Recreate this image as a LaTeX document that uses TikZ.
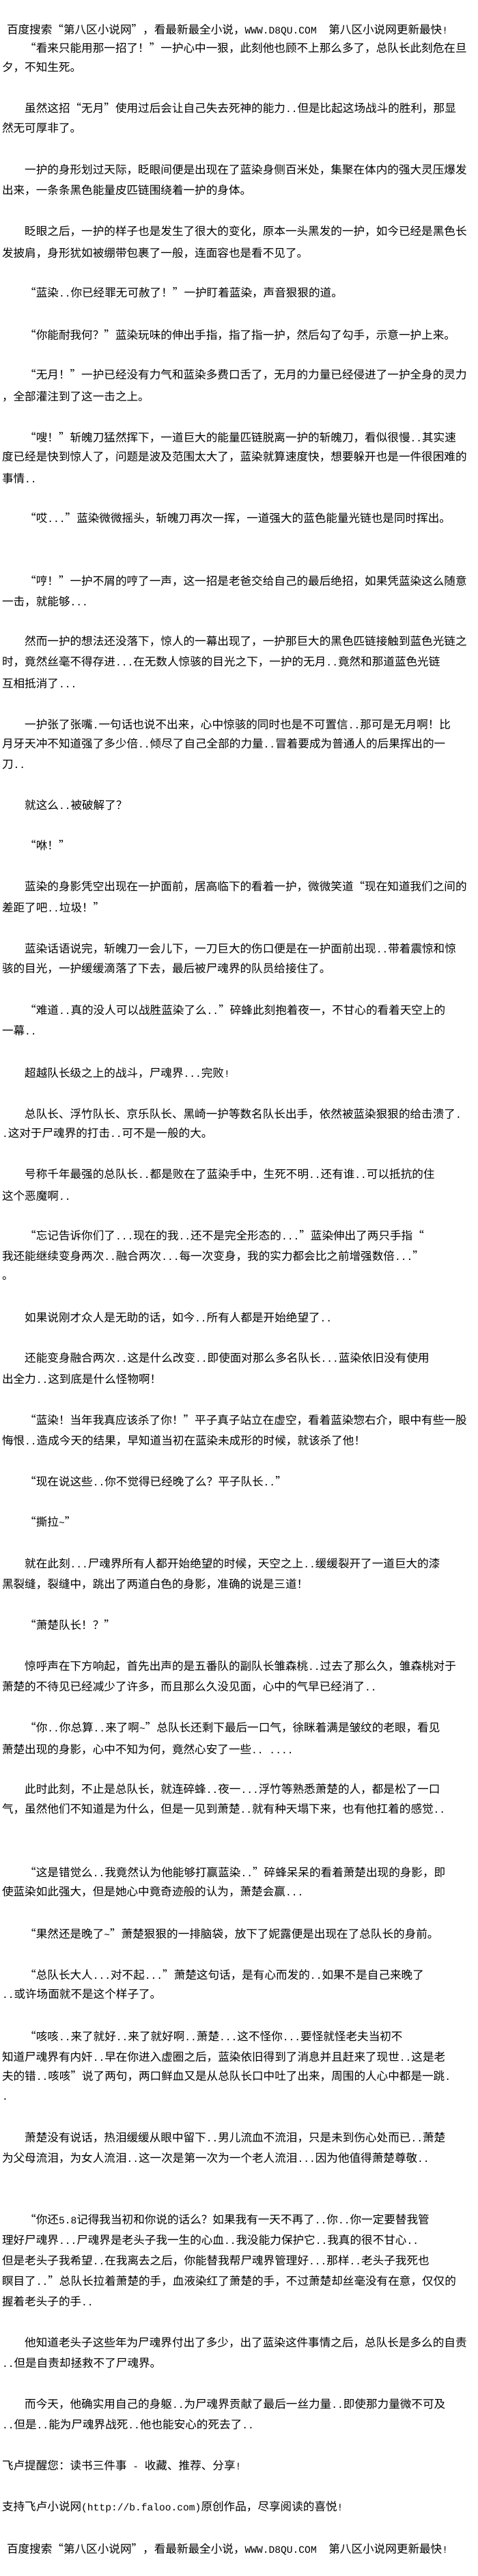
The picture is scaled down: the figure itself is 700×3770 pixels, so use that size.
\documentclass[tikz,border=0pt]{standalone}
\usepackage{fontspec}
\newfontfamily\cjk{Noto Sans CJK SC}
\newfontfamily\cjkfw[RawFeature=+fwid]{Noto Sans CJK SC}
\newfontfamily\monof[Scale=0.88]{Liberation Mono}
\newcommand\asc[1]{{\monof #1}}
\catcode`\“=\active
\catcode`\”=\active
\def“{{\cjkfw\char"201C}}
\def”{{\cjkfw\char"201D}}
\begin{document}
\begin{tikzpicture}[x=1pt,y=-1pt,
  txt/.style={anchor=base west, inner sep=0pt, outer sep=0pt, font=\cjk\fontsize{16.6}{20}\selectfont}]
\fill[white] (0,0) rectangle (700,3770);
\useasboundingbox (0,0) rectangle (700,3770);
\node[txt] (l1) at (10,49) {百度搜索“第八区小说网”，看最新最全小说，\asc{WWW.D8QU.COM\ \ }第八区小说网更新最快\asc{!}};
\node[txt] (l2) at (36.2,76) {“看来只能用那一招了！”一护心中一狠，此刻他也顾不上那么多了，总队长此刻危在旦};
\node[txt] (l3) at (3,104) {夕，不知生死。};
\node[txt] (l4) at (36.2,164) {虽然这招“无月”使用过后会让自己失去死神的能力\asc{..}但是比起这场战斗的胜利，那显};
\node[txt] (l5) at (3,193) {然无可厚非了。};
\node[txt] (l6) at (36.2,254) {一护的身形划过天际，眨眼间便是出现在了蓝染身侧百米处，集聚在体内的强大灵压爆发};
\node[txt] (l7) at (3,284) {出来，一条条黑色能量皮匹链围绕着一护的身体。};
\node[txt] (l8) at (36.2,344) {眨眼之后，一护的样子也是发生了很大的变化，原本一头黑发的一护，如今已经是黑色长};
\node[txt] (l9) at (3,376) {发披肩，身形犹如被绷带包裹了一般，连面容也是看不见了。};
\node[txt] (l10) at (36.2,434) {“蓝染\asc{..}你已经罪无可赦了！”一护盯着蓝染，声音狠狠的道。};
\node[txt] (l11) at (36.2,496) {“你能耐我何？”蓝染玩味的伸出手指，指了指一护，然后勾了勾手，示意一护上来。};
\node[txt] (l12) at (36.2,554) {“无月！”一护已经没有力气和蓝染多费口舌了，无月的力量已经侵进了一护全身的灵力};
\node[txt] (l13) at (3,586) {，全部灌注到了这一击之上。};
\node[txt] (l14) at (36.2,646) {“嗖！”斩魄刀猛然挥下，一道巨大的能量匹链脱离一护的斩魄刀，看似很慢\asc{..}其实速};
\node[txt] (l15) at (3,674) {度已经是快到惊人了，问题是波及范围太大了，蓝染就算速度快，想要躲开也是一件很困难的};
\node[txt] (l16) at (3,706) {事情\asc{..}};
\node[txt] (l17) at (36.2,764) {“哎\asc{...}”蓝染微微摇头，斩魄刀再次一挥，一道强大的蓝色能量光链也是同时挥出。};
\node[txt] (l18) at (36.2,856) {“哼！”一护不屑的哼了一声，这一招是老爸交给自己的最后绝招，如果凭蓝染这么随意};
\node[txt] (l19) at (3,886) {一击，就能够\asc{...}};
\node[txt] (l20) at (36.2,944) {然而一护的想法还没落下，惊人的一幕出现了，一护那巨大的黑色匹链接触到蓝色光链之};
\node[txt] (l21) at (3,974) {时，竟然丝毫不得存进\asc{...}在无数人惊骇的目光之下，一护的无月\asc{..}竟然和那道蓝色光链};
\node[txt] (l22) at (3,1006) {互相抵消了\asc{...}};
\node[txt] (l23) at (36.2,1066) {一护张了张嘴\asc{.}一句话也说不出来，心中惊骇的同时也是不可置信\asc{..}那可是无月啊！比};
\node[txt] (l24) at (3,1094) {月牙天冲不知道强了多少倍\asc{..}倾尽了自己全部的力量\asc{..}冒着要成为普通人的后果挥出的一};
\node[txt] (l25) at (3,1124) {刀\asc{..}};
\node[txt] (l26) at (36.2,1184) {就这么\asc{..}被破解了？};
\node[txt] (l27) at (36.2,1243) {“咻！”};
\node[txt] (l28) at (36.2,1303) {蓝染的身影凭空出现在一护面前，居高临下的看着一护，微微笑道“现在知道我们之间的};
\node[txt] (l29) at (3,1334) {差距了吧\asc{..}垃圾！”};
\node[txt] (l30) at (36.2,1394) {蓝染话语说完，斩魄刀一会儿下，一刀巨大的伤口便是在一护面前出现\asc{..}带着震惊和惊};
\node[txt] (l31) at (3,1423) {骇的目光，一护缓缓滴落了下去，最后被尸魂界的队员给接住了。};
\node[txt] (l32) at (36.2,1484) {“难道\asc{..}真的没人可以战胜蓝染了么\asc{..}”碎蜂此刻抱着夜一，不甘心的看着天空上的};
\node[txt] (l33) at (3,1514) {一幕\asc{..}};
\node[txt] (l34) at (36.2,1576) {超越队长级之上的战斗，尸魂界\asc{...}完败\asc{!}};
\node[txt] (l35) at (36.2,1636) {总队长、浮竹队长、京乐队长、黑崎一护等数名队长出手，依然被蓝染狠狠的给击溃了\asc{.}};
\node[txt] (l36) at (3,1664) {\asc{.}这对于尸魂界的打击\asc{..}可不是一般的大。};
\node[txt] (l37) at (36.2,1724) {号称千年最强的总队长\asc{..}都是败在了蓝染手中，生死不明\asc{..}还有谁\asc{..}可以抵抗的住};
\node[txt] (l38) at (3,1756) {这个恶魔啊\asc{..}};
\node[txt] (l39) at (36.2,1814) {“忘记告诉你们了\asc{...}现在的我\asc{..}还不是完全形态的\asc{...}”蓝染伸出了两只手指“};
\node[txt] (l40) at (3,1844) {我还能继续变身两次\asc{..}融合两次\asc{...}每一次变身，我的实力都会比之前增强数倍\asc{...}”};
\node[txt] (l41) at (3,1872) {。};
\node[txt] (l42) at (36.2,1934) {如果说刚才众人是无助的话，如今\asc{..}所有人都是开始绝望了\asc{..}};
\node[txt] (l43) at (36.2,1993) {还能变身融合两次\asc{..}这是什么改变\asc{..}即使面对那么多名队长\asc{...}蓝染依旧没有使用};
\node[txt] (l44) at (3,2024) {出全力\asc{..}这到底是什么怪物啊！};
\node[txt] (l45) at (36.2,2084) {“蓝染！当年我真应该杀了你！”平子真子站立在虚空，看着蓝染惣右介，眼中有些一股};
\node[txt] (l46) at (3,2114) {悔恨\asc{..}造成今天的结果，早知道当初在蓝染未成形的时候，就该杀了他！};
\node[txt] (l47) at (36.2,2174) {“现在说这些\asc{..}你不觉得已经晚了么？平子队长\asc{..}”};
\node[txt] (l48) at (36.2,2233) {“撕拉\asc{\textasciitilde}”};
\node[txt] (l49) at (36.2,2294) {就在此刻\asc{...}尸魂界所有人都开始绝望的时候，天空之上\asc{..}缓缓裂开了一道巨大的漆};
\node[txt] (l50) at (3,2324) {黑裂缝，裂缝中，跳出了两道白色的身影，准确的说是三道！};
\node[txt] (l51) at (36.2,2384) {“萧楚队长！？”};
\node[txt] (l52) at (36.2,2444) {惊呼声在下方响起，首先出声的是五番队的副队长雏森桃\asc{..}过去了那么久，雏森桃对于};
\node[txt] (l53) at (3,2474) {萧楚的不待见已经减少了许多，而且那么久没见面，心中的气早已经消了\asc{..}};
\node[txt] (l54) at (36.2,2534) {“你\asc{..}你总算\asc{..}来了啊\asc{\textasciitilde}”总队长还剩下最后一口气，徐眯着满是皱纹的老眼，看见};
\node[txt] (l55) at (3,2566) {萧楚出现的身影，心中不知为何，竟然心安了一些\asc{..\ ....}};
\node[txt] (l56) at (36.2,2624) {此时此刻，不止是总队长，就连碎蜂\asc{..}夜一\asc{...}浮竹等熟悉萧楚的人，都是松了一口};
\node[txt] (l57) at (3,2653) {气，虽然他们不知道是为什么，但是一见到萧楚\asc{..}就有种天塌下来，也有他扛着的感觉\asc{..}};
\node[txt] (l58) at (36.2,2746) {“这是错觉么\asc{..}我竟然认为他能够打赢蓝染\asc{..}”碎蜂呆呆的看着萧楚出现的身影，即};
\node[txt] (l59) at (3,2774) {使蓝染如此强大，但是她心中竟奇迹般的认为，萧楚会赢\asc{...}};
\node[txt] (l60) at (36.2,2836) {“果然还是晚了\asc{\textasciitilde}”萧楚狠狠的一排脑袋，放下了妮露便是出现在了总队长的身前。};
\node[txt] (l61) at (36.2,2896) {“总队长大人\asc{...}对不起\asc{...}”萧楚这句话，是有心而发的\asc{..}如果不是自己来晚了};
\node[txt] (l62) at (3,2924) {\asc{..}或许场面就不是这个样子了。};
\node[txt] (l63) at (36.2,2986) {“咳咳\asc{..}来了就好\asc{..}来了就好啊\asc{..}萧楚\asc{...}这不怪你\asc{...}要怪就怪老夫当初不};
\node[txt] (l64) at (3,3016) {知道尸魂界有内奸\asc{..}早在你进入虚圈之后，蓝染依旧得到了消息并且赶来了现世\asc{..}这是老};
\node[txt] (l65) at (3,3044) {夫的错\asc{..}咳咳”说了两句，两口鲜血又是从总队长口中吐了出来，周围的人心中都是一跳\asc{.}};
\node[txt] (l66) at (3,3073) {\asc{.}};
\node[txt] (l67) at (36.2,3134) {萧楚没有说话，热泪缓缓从眼中留下\asc{..}男儿流血不流泪，只是未到伤心处而已\asc{..}萧楚};
\node[txt] (l68) at (3,3164) {为父母流泪，为女人流泪\asc{..}这一次是第一次为一个老人流泪\asc{...}因为他值得萧楚尊敬\asc{..}};
\node[txt] (l69) at (36.2,3254) {“你还\asc{5.8}记得我当初和你说的话么？如果我有一天不再了\asc{..}你\asc{..}你一定要替我管};
\node[txt] (l70) at (3,3284) {理好尸魂界\asc{...}尸魂界是老头子我一生的心血\asc{..}我没能力保护它\asc{..}我真的很不甘心\asc{..}};
\node[txt] (l71) at (3,3314) {但是老头子我希望\asc{..}在我离去之后，你能替我帮尸魂界管理好\asc{...}那样\asc{..}老头子我死也};
\node[txt] (l72) at (3,3344) {瞑目了\asc{..}”总队长拉着萧楚的手，血液染红了萧楚的手，不过萧楚却丝毫没有在意，仅仅的};
\node[txt] (l73) at (3,3374) {握着老头子的手\asc{..}};
\node[txt] (l74) at (36.2,3434) {他知道老头子这些年为尸魂界付出了多少，出了蓝染这件事情之后，总队长是多么的自责};
\node[txt] (l75) at (3,3464) {\asc{..}但是自责却拯救不了尸魂界。};
\node[txt] (l76) at (36.2,3524) {而今天，他确实用自己的身躯\asc{..}为尸魂界贡献了最后一丝力量\asc{..}即使那力量微不可及};
\node[txt] (l77) at (3,3554) {\asc{..}但是\asc{..}能为尸魂界战死\asc{..}他也能安心的死去了\asc{..}};
\node[txt] (l78) at (3,3614) {飞卢提醒您：读书三件事\asc{\ -\ }收藏、推荐、分享\asc{!}};
\node[txt] (l79) at (3,3674) {支持飞卢小说网\asc{(http://b.faloo.com)}原创作品，尽享阅读的喜悦\asc{!}};
\node[txt] (l80) at (10,3736) {百度搜索“第八区小说网”，看最新最全小说，\asc{WWW.D8QU.COM\ \ }第八区小说网更新最快\asc{!}};
\end{tikzpicture}
\end{document}
